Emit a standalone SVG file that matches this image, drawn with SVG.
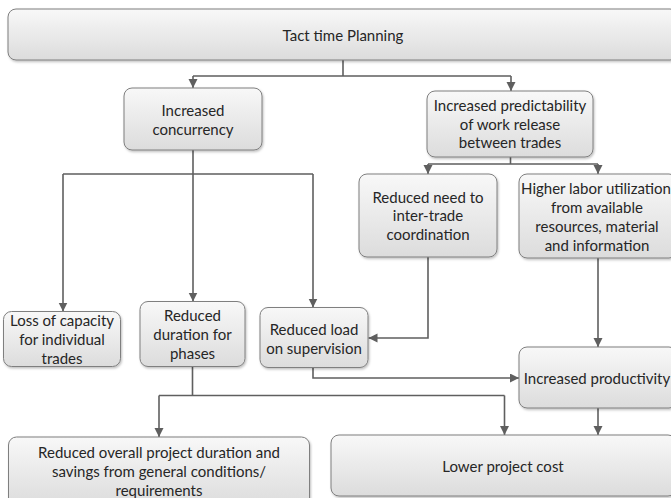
<svg xmlns="http://www.w3.org/2000/svg" width="671" height="498" viewBox="0 0 671 498">
<style>
.box{fill:url(#g);stroke:#7f7f7f;stroke-width:1;filter:url(#sh)}
.t{font-family:Lato,"Liberation Sans",sans-serif;font-size:15px;fill:#262626;text-anchor:middle;dominant-baseline:central}
.c{fill:none;stroke:#5f5f5f;stroke-width:1.6}
.a{marker-end:url(#ar)}
</style>
<defs>
<linearGradient id="g" x1="0" y1="0" x2="0" y2="1">
<stop offset="0" stop-color="#f8f8f8"/>
<stop offset="1" stop-color="#dcdcdc"/>
</linearGradient>
<filter id="sh" x="-10%" y="-10%" width="120%" height="130%">
<feDropShadow dx="1" dy="1.5" stdDeviation="1" flood-color="#000" flood-opacity="0.25"/>
</filter>
<marker id="ar" markerWidth="10" markerHeight="10" refX="9" refY="4.5" orient="auto" markerUnits="userSpaceOnUse">
<path d="M0,0 L9,4.5 L0,9 z" fill="#5f5f5f"/>
</marker>
</defs>
<rect width="671" height="498" fill="#fff"/>
<g id="connectors">
<path class="c" d="M343,60 V76 M193,76 H511"/>
<path class="c a" d="M193,76 V88"/>
<path class="c a" d="M511,76 V91"/>
<path class="c" d="M193,150 V174 M63,174 H313"/>
<path class="c a" d="M193,174 V301.5"/>
<path class="c a" d="M63,174 V311.5"/>
<path class="c a" d="M313,174 V307.5"/>
<path class="c" d="M510.5,157 V164 M428,164 H598"/>
<path class="c a" d="M428,164 V174"/>
<path class="c a" d="M598,164 V174"/>
<path class="c a" d="M428,257 V338 H368.5"/>
<path class="c a" d="M598,258 V347"/>
<path class="c a" d="M313,367.5 V378 H519"/>
<path class="c" d="M192.5,366.5 V395.5 M159,395.5 H504.5"/>
<path class="c a" d="M159,395.5 V437"/>
<path class="c a" d="M504.5,395.5 V435"/>
<path class="c a" d="M598,408 V435"/>
</g>
<g id="n1"><rect class="box" x="8" y="9" width="670" height="51" rx="8"/><text class="t" x="343" y="35">Tact time Planning</text></g>
<g id="n2"><rect class="box" x="124" y="88" width="138" height="62" rx="8"/><text class="t" x="193" y="110">Increased</text><text class="t" x="193" y="128.5">concurrency</text></g>
<g id="n3"><rect class="box" x="427" y="91" width="166" height="66" rx="8"/><text class="t" x="510" y="105">Increased predictability</text><text class="t" x="510" y="123.5">of work release</text><text class="t" x="510" y="142">between trades</text></g>
<g id="n4"><rect class="box" x="359" y="174" width="138" height="83" rx="8"/><text class="t" x="428" y="196.5">Reduced need to</text><text class="t" x="428" y="215">inter-trade</text><text class="t" x="428" y="233.5">coordination</text></g>
<g id="n5"><rect class="box" x="519" y="174" width="158" height="84" rx="8"/><text class="t" x="596" y="188">Higher labor utilization</text><text class="t" x="597" y="207">from available</text><text class="t" x="597" y="226">resources, material</text><text class="t" x="597" y="245">and information</text></g>
<g id="n6"><rect class="box" x="3.5" y="311.5" width="117" height="55" rx="8"/><text class="t" x="62" y="320">Loss of capacity</text><text class="t" x="62" y="339">for individual</text><text class="t" x="62" y="358">trades</text></g>
<g id="n7"><rect class="box" x="140" y="301.5" width="105" height="65" rx="8"/><text class="t" x="192.5" y="315">Reduced</text><text class="t" x="192.5" y="334">duration for</text><text class="t" x="192.5" y="353">phases</text></g>
<g id="n8"><rect class="box" x="260" y="307.5" width="108" height="60" rx="8"/><text class="t" x="314" y="329">Reduced load</text><text class="t" x="314" y="348">on supervision</text></g>
<g id="n9"><rect class="box" x="519" y="347" width="158" height="61" rx="8"/><text class="t" x="597" y="377.5">Increased productivity</text></g>
<g id="n10"><rect class="box" x="8.5" y="437" width="301" height="69" rx="8"/><text class="t" x="159" y="452">Reduced overall project duration and</text><text class="t" x="159" y="471">savings from general conditions/</text><text class="t" x="159" y="490">requirements</text></g>
<g id="n11"><rect class="box" x="331" y="435" width="345" height="61" rx="8"/><text class="t" x="503" y="466">Lower project cost</text></g>
</svg>
